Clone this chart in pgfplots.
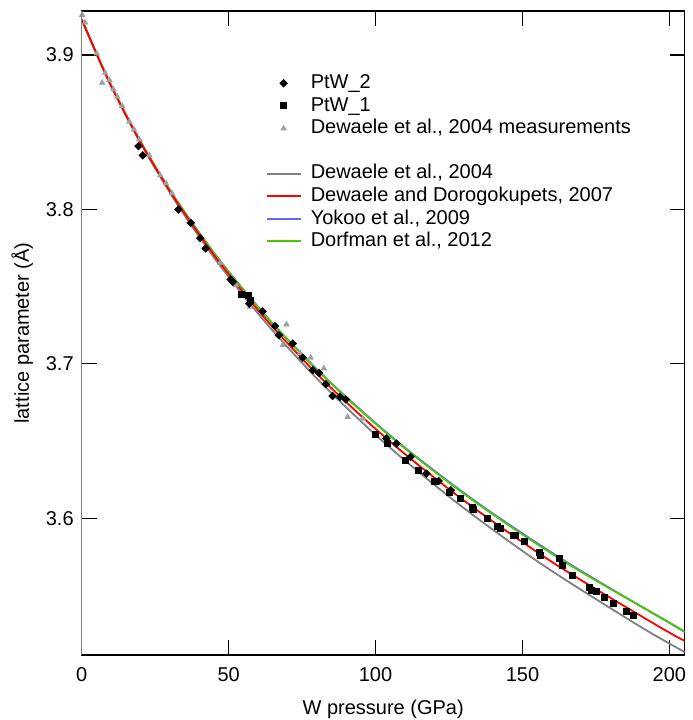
\documentclass[border=0pt]{standalone}
\usepackage{fontspec}
\setmainfont{Liberation Sans}
\usepackage{pgfplots}
\pgfplotsset{compat=1.18}

\definecolor{eosgray}{RGB}{128,128,128}
\definecolor{eosred}{RGB}{255,0,0}
\definecolor{eosblue}{RGB}{100,100,255}
\definecolor{eosgreen}{RGB}{76,200,0}
\definecolor{measgray}{RGB}{160,160,160}

\begin{document}
\begin{tikzpicture}
\begin{axis}[
    name=ax,
    scale only axis,
    width=301.5pt, height=322pt,
    xmin=0, xmax=205.2,
    ymin=3.5114, ymax=3.9285,
    xtick={0,50,100,150,200},
    ytick={3.6,3.7,3.8,3.9},
    /pgf/number format/assume math mode=true,
    tick align=inside,
    major tick length=7.5pt,
    tick style={black, line width=0.6pt},
    axis line style={line width=0.7pt},
    tick label style={font=\fontsize{10}{12}\selectfont},
    xticklabel style={yshift=-2.5pt},
    yticklabel style={xshift=-0.5pt, /pgf/number format/.cd, fixed, precision=1, fixed zerofill},
    label style={font=\fontsize{10}{12}\selectfont},
    xlabel={W pressure (GPa)},
    xlabel style={at={(axis description cs:0.5,0)}, anchor=base, inner sep=0pt, yshift=-29.5pt},
    ylabel={lattice parameter (Å)},
    ylabel style={at={(axis description cs:-0.0988,0.5)}, anchor=center, inner sep=0pt},
    legend style={at={(0.305,0.903)}, anchor=north west, draw=none, fill=none,
        inner sep=0pt, outer sep=0pt,
        font=\fontsize{10}{12}\selectfont, row sep=1.5pt, column sep=4.5pt,
        nodes={inner sep=0pt, text height=7.5pt, text depth=2.3pt}},
    legend cell align=left,
]
% legend entries
\addlegendimage{only marks, mark=square*, mark size=1.3pt, mark options={rotate=45, fill=black, draw=black}}
\addlegendentry{PtW\_2}
\addlegendimage{only marks, mark=square*, mark size=1.5pt, mark options={fill=black, draw=black}}
\addlegendentry{PtW\_1}
\addlegendimage{only marks, mark=triangle*, mark size=1.5pt, mark options={fill=measgray, draw=measgray}}
\addlegendentry{Dewaele et al., 2004 measurements}
\addlegendimage{empty legend}
\addlegendentry{\phantom{X}}
\addlegendimage{draw=eosgray, line width=1pt}
\addlegendentry{Dewaele et al., 2004}
\addlegendimage{draw=eosred, line width=1pt}
\addlegendentry{Dewaele and Dorogokupets, 2007}
\addlegendimage{draw=eosblue, line width=1pt}
\addlegendentry{Yokoo et al., 2009}
\addlegendimage{draw=eosgreen, line width=1pt}
\addlegendentry{Dorfman et al., 2012}

% Dewaele et al., 2004
\addplot[eosgray, line width=0.9pt, smooth, forget plot] coordinates {
(0,3.9231) (9.014,3.8839) (19.559,3.8446) (31.835,3.8054) (46.072,3.7662)
(62.520,3.7269) (81.465,3.6877) (103.225,3.6485) (128.157,3.6093)
(156.663,3.5700) (189.192,3.5308) (205.2,3.5133)
};
% Yokoo et al., 2009
\addplot[eosblue, line width=0.9pt, smooth, forget plot] coordinates {
(0,3.9231) (9.08,3.8839) (19.83,3.8446) (32.49,3.8054) (47.32,3.7662)
(64.64,3.7269) (84.80,3.6877) (108.17,3.6485) (135.21,3.6093)
(166.36,3.5700) (201.8,3.5302) (205.2,3.5262)
};
% Dorfman et al., 2012
\addplot[eosgreen, line width=0.9pt, smooth, forget plot] coordinates {
(0,3.9231) (9.071,3.8839) (19.807,3.8446) (32.443,3.8054) (47.247,3.7662)
(64.521,3.7269) (84.602,3.6877) (107.878,3.6485) (134.785,3.6093)
(165.804,3.5700) (201.495,3.5308) (203.0,3.5288)
};
% Dewaele and Dorogokupets, 2007
\addplot[eosred, line width=0.9pt, smooth, forget plot] coordinates {
(0,3.9231) (9.044,3.8839) (19.688,3.8446) (32.152,3.8054) (46.684,3.7662)
(63.560,3.7269) (83.093,3.6877) (105.636,3.6485) (131.585,3.6093)
(161.385,3.5700) (195.538,3.5308) (205.2,3.5205)
};

% Dewaele et al., 2004 measurements
\addplot[only marks, mark=triangle*, mark size=1.5pt, mark options={fill=measgray, draw=measgray}, forget plot] coordinates {
(0.14,3.926) (1.16,3.921) (5.13,3.901) (6.94,3.882) (7.96,3.8885) (9.42,3.8838)
(10.78,3.8778) (12.14,3.873) (13.74,3.867) (16.2,3.8568) (17.8,3.8518)
(19.6,3.8454) (23.0,3.835) (26.7,3.8222) (28.7,3.8169) (30.7,3.8104)
(36.9,3.792) (47.1,3.7654) (52.5,3.751) (57.3,3.737) (68.4,3.712)
(69.7,3.7255) (74.3,3.707) (77.9,3.704) (82.4,3.697) (90.5,3.6656) (95.6,3.6645)
};
% PtW_1
\addplot[only marks, mark=square*, mark size=1.5pt, mark options={fill=black, draw=black}, forget plot] coordinates {
(54.4,3.7451) (56.7,3.7445) (57.3,3.741) (99.8,3.6544) (103.9,3.6487)
(110.3,3.6375) (114.7,3.631) (119.9,3.6241) (125.0,3.617) (128.9,3.6127)
(133.0,3.6069) (133.3,3.6055) (137.9,3.600) (141.3,3.595) (142.4,3.5935)
(146.8,3.5887) (147.6,3.5887) (150.8,3.5848) (155.9,3.5776) (156.1,3.5761)
(162.7,3.5741) (163.6,3.5697) (167.0,3.563) (172.9,3.555) (173.3,3.5535)
(175.3,3.5526) (178.0,3.5485) (181.1,3.5446) (185.3,3.5399) (187.6,3.537)
};
% PtW_2
\addplot[only marks, mark=square*, mark size=1.3pt, mark options={rotate=45, fill=black, draw=black}, forget plot] coordinates {
(19.3,3.841) (20.8,3.835) (32.9,3.800) (37.1,3.7913) (40.3,3.7814) (42.2,3.7747)
(50.7,3.7546) (51.4,3.753) (57.0,3.739) (61.6,3.7339) (65.8,3.7244) (67.1,3.7185)
(71.8,3.7131) (75.2,3.704) (78.6,3.6959) (80.8,3.6941) (83.1,3.6868) (85.4,3.6792)
(87.9,3.6786) (89.9,3.6769) (103.7,3.6516) (107.1,3.6483) (111.9,3.6397)
(117.3,3.6289) (121.5,3.6241) (125.6,3.6181)
};
\end{axis}
% grey left spine as in the original
\draw[gray, line width=0.7pt] (ax.south west) -- (ax.north west);
% page margins of the original
\path (ax.north west) ++(-40.85pt,5.5pt);
\path (ax.south east) ++(1.65pt,-32.5pt);
\end{tikzpicture}
\end{document}
